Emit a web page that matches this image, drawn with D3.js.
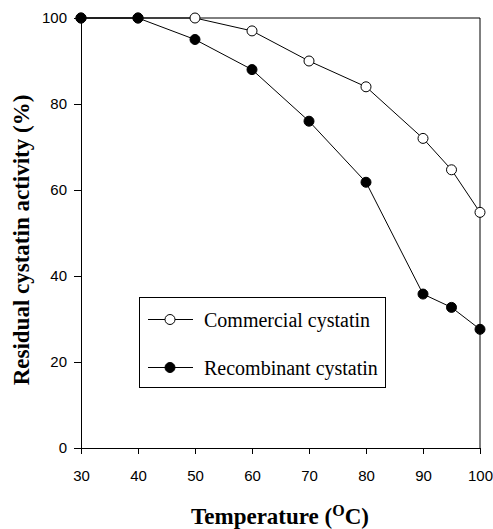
<!DOCTYPE html>
<html>
<head>
<meta charset="utf-8">
<script src="https://cdn.jsdelivr.net/npm/d3@7"></script>
<style>
html,body{margin:0;padding:0;background:#fff;}
svg{display:block;}
</style>
</head>
<body>
<svg id="chart" width="493" height="529"></svg>
<script>
const temperatures = [30, 40, 50, 60, 70, 80, 90, 95, 100];
const commercial = [100, 100, 100, 97, 90, 84, 72, 64.7, 54.8];
const recombinant = [100, 100, 95, 88, 76, 61.8, 35.8, 32.7, 27.6];
const xTicks = [30, 40, 50, 60, 70, 80, 90, 100];
const yTicks = [0, 20, 40, 60, 80, 100];
const seriesNames = ["Commercial cystatin", "Recombinant cystatin"];

(function () {
const svg = d3.select("#chart");
const mLeft = 81, mRight = 480, mTop = 18, mBottom = 448;

const x = d3.scaleLinear().domain([30, 100]).range([mLeft, mRight]);
const y = d3.scaleLinear().domain([0, 100]).range([mBottom, mTop]);

// frame (top and right)
svg.append("path")
  .attr("d", `M${mLeft},${mTop}H${mRight}V${mBottom}`)
  .attr("fill", "none").attr("stroke", "#000").attr("stroke-width", 1);

const xAxis = svg.append("g").attr("transform", `translate(0,${mBottom})`)
  .call(d3.axisBottom(x).tickValues(xTicks).tickSize(6).tickPadding(16).tickFormat(d3.format("d")));
const yAxis = svg.append("g").attr("transform", `translate(${mLeft},0)`)
  .call(d3.axisLeft(y).tickValues(yTicks).tickSize(7).tickPadding(7).tickFormat(d3.format("d")));
[xAxis, yAxis].forEach(g => {
  g.selectAll("text").attr("font-family", "Liberation Sans, Arial, sans-serif").attr("font-size", 15).attr("fill", "#000");
  g.selectAll("line").attr("stroke", "#000");
  g.select(".domain").attr("stroke", "#000");
});

const line = d3.line().x((d, i) => x(temperatures[i])).y(d => y(d));

function drawSeries(vals, fill) {
  svg.append("path").datum(vals).attr("d", line)
    .attr("fill", "none").attr("stroke", "#000").attr("stroke-width", 1);
  svg.append("g").selectAll("circle").data(vals).join("circle")
    .attr("cx", (d, i) => x(temperatures[i])).attr("cy", d => y(d)).attr("r", 5)
    .attr("fill", fill).attr("stroke", "#000").attr("stroke-width", 1);
}
drawSeries(commercial, "#fff");
drawSeries(recombinant, "#000");

// legend
const lg = svg.append("g");
lg.append("rect").attr("x", 139.5).attr("y", 297.5).attr("width", 246).attr("height", 90)
  .attr("fill", "#fff").attr("stroke", "#000").attr("stroke-width", 1);
const fills = ["#fff", "#000"];
const ly = [319.5, 367.5];
seriesNames.forEach((name, i) => {
  lg.append("line").attr("x1", 148).attr("x2", 193).attr("y1", ly[i]).attr("y2", ly[i])
    .attr("stroke", "#000").attr("stroke-width", 1);
  lg.append("circle").attr("cx", 170).attr("cy", ly[i]).attr("r", 5)
    .attr("fill", fills[i]).attr("stroke", "#000").attr("stroke-width", 1);
  lg.append("text").attr("x", 204).attr("y", ly[i]).attr("dy", "0.35em")
    .attr("font-family", "Liberation Serif, Times New Roman, serif").attr("font-size", 20)
    .text(name);
});

// axis titles
svg.append("text")
  .attr("transform", `translate(29,240) rotate(-90)`)
  .attr("text-anchor", "middle")
  .attr("font-family", "Liberation Serif, Times New Roman, serif")
  .attr("font-weight", "bold").attr("font-size", 23)
  .text("Residual cystatin activity (%)");

const xt = svg.append("text")
  .attr("x", 280).attr("y", 524)
  .attr("text-anchor", "middle")
  .attr("font-family", "Liberation Serif, Times New Roman, serif")
  .attr("font-weight", "bold").attr("font-size", 23);
xt.append("tspan").text("Temperature (");
xt.append("tspan").attr("font-size", 16).attr("dy", -8).text("O");
xt.append("tspan").attr("dy", 8).text("C)");
})();
</script>
</body>
</html>
